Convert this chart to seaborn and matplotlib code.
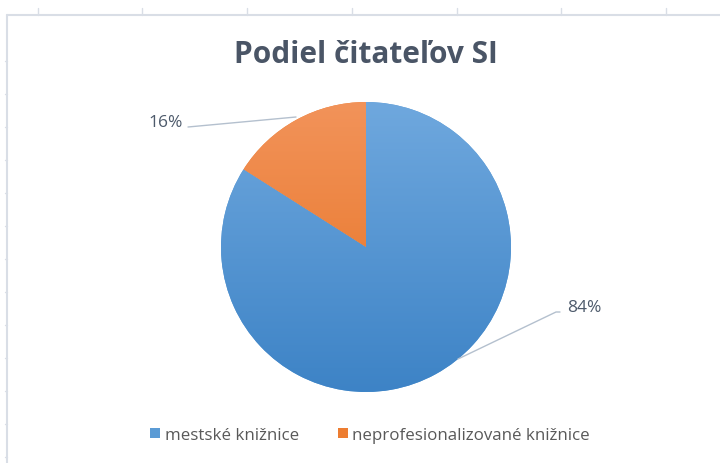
import numpy as np
import matplotlib.pyplot as plt
import seaborn as sns
from matplotlib.colors import LinearSegmentedColormap
from matplotlib.lines import Line2D

# Données du graphique
kategorie = ["mestské knižnice", "neprofesionalizované knižnice"]
podiely = [84, 16]
titul = "Podiel čitateľov SI"

farby = ["#5B9BD5", "#ED7D31"]
prechody = [("#6FA8DE", "#3D83C6"), ("#F2935A", "#E6701E")]

sns.set_theme(style="white")
plt.rcParams['font.family'] = ['Open Sans', 'DejaVu Sans']

W, H = 720, 464
fig = plt.figure(figsize=(W / 100, H / 100), dpi=100)
ax = fig.add_axes([0, 0, 1, 1])

cx, cy, r = 366, H - 248, 145
wedges, _ = ax.pie(podiely, colors=farby, startangle=90, counterclock=False,
                   center=(cx, cy), radius=r, frame=True,
                   wedgeprops=dict(linewidth=0))
ax.set_xlim(0, W)
ax.set_ylim(0, H)
ax.axis("off")

# dégradé vertical dans chaque part
grad = np.linspace(0, 1, 256).reshape(-1, 1)
for w, (c1, c2) in zip(wedges, prechody):
    cmap = LinearSegmentedColormap.from_list("g", [c1, c2])
    im = ax.imshow(grad, cmap=cmap, extent=[cx - r, cx + r, cy - r, cy + r],
                   origin="upper", aspect="auto", zorder=2)
    im.set_clip_path(w)

# étiquettes avec lignes de rappel
txt_col = "#4D5A6B"
line_col = "#B4C0CE"
ax.plot([188, 296], [H - 128, H - 118], color=line_col, lw=1, zorder=3)
ax.text(166, H - 123, f"{podiely[1]}%", ha="center", va="center",
        fontsize=12.5, color=txt_col)
ax.plot([560, 556, 458], [H - 313, H - 313, H - 360], color=line_col, lw=1, zorder=3)
ax.text(584, H - 308, f"{podiely[0]}%", ha="center", va="center",
        fontsize=12.5, color=txt_col)

ax.text(cx, H - 55, titul, ha="center", va="center", fontsize=21.5,
        fontweight="bold", color="#4A5566")

# légende
leg = ax.legend(wedges, kategorie, loc="center", bbox_to_anchor=(370 / W, 1 - 436 / H),
                ncol=2, frameon=False, fontsize=12.2, handlelength=0.6,
                handleheight=0.6, handletextpad=0.25, columnspacing=2.3)
for t in leg.get_texts():
    t.set_color("#595959")

# cadre du graphique (bordure Excel)
fc = "#D9DEE6"
fig.add_artist(Line2D([7 / W, 7 / W], [0, 1 - 16 / H], color=fc, lw=1.5))
fig.add_artist(Line2D([7 / W, 1], [1 - 16 / H, 1 - 16 / H], color=fc, lw=1.5))
for x in [38, 142, 247, 352, 457, 561, 666]:
    fig.add_artist(Line2D([x / W, x / W], [1 - 9 / H, 1 - 16 / H], color=fc, lw=1))
for y in range(62, 464, 33):
    fig.add_artist(Line2D([5 / W, 7 / W], [1 - y / H, 1 - y / H], color=fc, lw=1))

fig.savefig("out.png", dpi=100)
